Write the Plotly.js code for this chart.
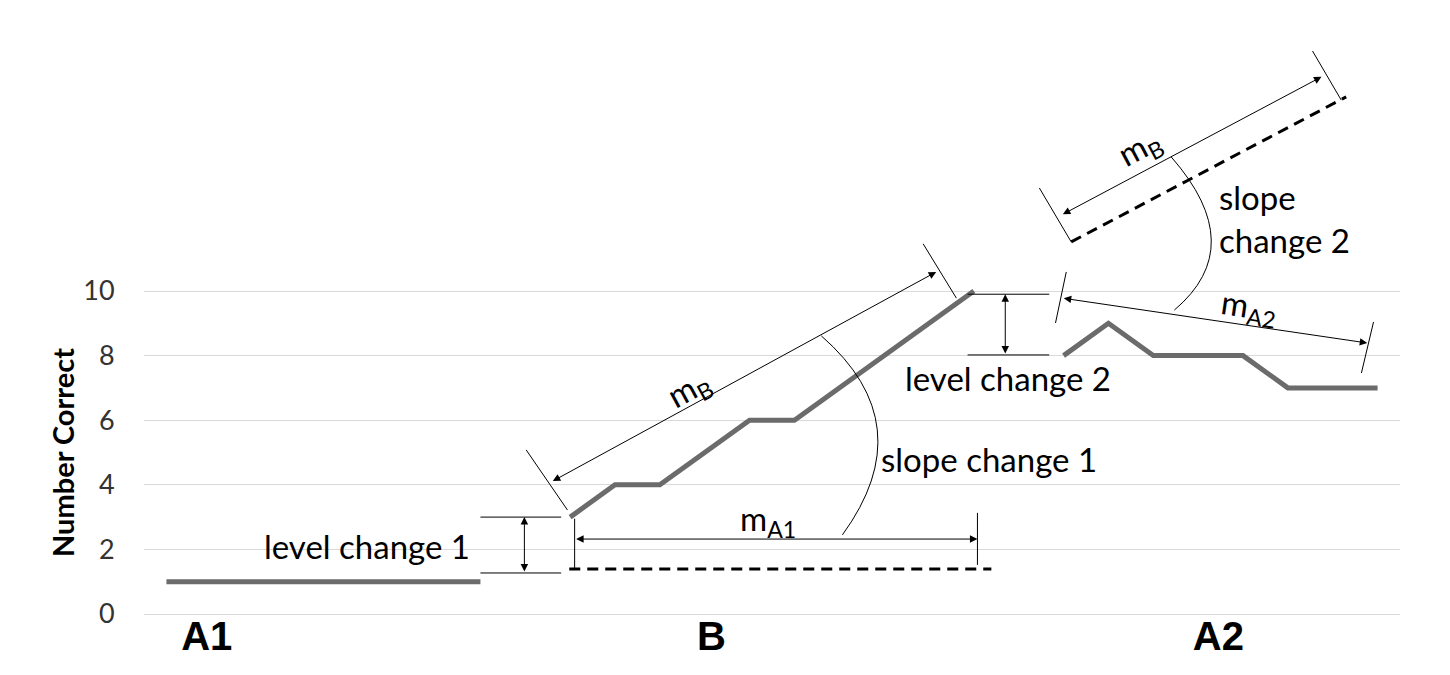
<!DOCTYPE html>
<html><head><meta charset="utf-8">
<script src="https://cdn.plot.ly/plotly-3.0.1.min.js"></script>
<style>html,body{margin:0;padding:0;background:#fff;}#chart{width:1450px;height:675px;}</style>
</head><body><div id="chart"></div>
<script>
// ---- data ----
const phaseA1X = [0,1,2,3,4,5,6,7];
const phaseA1Y = [1,1,1,1,1,1,1,1];
const phaseBX  = [9,10,11,12,13,14,15,16,17,18];
const phaseBY  = [3,4,4,5,6,6,7,8,9,10];
const phaseA2X = [20,21,22,23,24,25,26,27];
const phaseA2Y = [8,9,8,8,8,7,7,7];
const yTicks = [0,2,4,6,8,10];
const phaseLabels = ['A1','B','A2'];
const phaseLabelX = [0.9, 12.15, 23.45];

// ---- annotation geometry (data units) ----
const predictedLevel1 = 1.39;
const lowLevel1 = 1.27;
const topLevel2 = 9.9;

const dataLine = {color:'#6b6b6b', width:5};
function series(x, y){ return {x:x, y:y, type:'scatter', mode:'lines', line:dataLine, hoverinfo:'skip', showlegend:false}; }
const traces = [series(phaseA1X, phaseA1Y), series(phaseBX, phaseBY), series(phaseA2X, phaseA2Y)];

const thin = {color:'#000', width:1};
const dashed = {color:'#000', width:3, dash:'11px,7px'};
function seg(x0,y0,x1,y1,ln){ return {type:'line', xref:'x', yref:'y', x0:x0, y0:y0, x1:x1, y1:y1, line:ln||thin, layer:'above'}; }

const lastA1X = phaseA1X[phaseA1X.length-1];
const firstBY = phaseBY[0];
const firstA2Y = phaseA2Y[0];

const shapes = [
  // dashed projections
  seg(8.98, predictedLevel1, 18.39, predictedLevel1, dashed),
  seg(20.17, 11.52, 26.30, 16.01, dashed),
  // level change 1
  seg(lastA1X, firstBY, 8.8, firstBY),
  seg(lastA1X, lowLevel1, 8.8, lowLevel1),
  // m_A1 end ticks
  seg(9.1, 2.95, 9.1, predictedLevel1),
  seg(18.08, 3.13, 18.08, 1.52),
  // m_B ticks (phase B)
  seg(8.02, 5.08, 8.94, 3.22),
  seg(16.87, 11.46, 17.61, 9.78),
  // level change 2
  seg(17.86, topLevel2, 19.68, topLevel2),
  seg(17.86, firstA2Y + 0.02, 19.68, firstA2Y + 0.02),
  // m_A2 ticks
  seg(20.06, 10.59, 19.82, 9.01),
  seg(26.91, 9.04, 26.64, 7.46),
  // upper m_B ticks
  seg(19.46, 13.19, 20.17, 11.52),
  seg(25.55, 17.43, 26.19, 15.91),
  // slope-change arcs
  {type:'path', xref:'x', yref:'y', path:'M 15.07 2.45 Q 16.86 5.87 14.60 8.61', line:thin, layer:'above'},
  {type:'path', xref:'x', yref:'y', path:'M 22.47 9.41 Q 24.15 11.38 22.40 14.15', line:thin, layer:'above'}
];

function dbl(x0,y0,x1,y1){
  return {x:x1, y:y1, ax:x0, ay:y0, xref:'x', yref:'y', axref:'x', ayref:'y',
    text:'', showarrow:true, arrowside:'end+start', arrowhead:2, arrowsize:1.5,
    arrowwidth:1, arrowcolor:'#000', standoff:0, startstandoff:0, font:{size:1}};
}
const txtFont = {family:'Lato, sans-serif', size:33, color:'#000'};
function lbl(text, x, y, opts){
  return Object.assign({text:text, x:x, y:y, xref:'x', yref:'y', showarrow:false, font:txtFont,
    xanchor:'center', yanchor:'middle'}, opts||{});
}

const annotations = [
  dbl(7.98, lowLevel1, 7.98, firstBY),
  dbl(9.1, 2.32, 18.08, 2.32),
  dbl(8.58, 4.09, 17.16, 10.59),
  dbl(18.70, firstA2Y + 0.02, 18.70, topLevel2),
  dbl(19.97, 9.78, 26.77, 8.39),
  dbl(19.95, 12.35, 25.75, 16.63),
  lbl('level change 1', 2.14, 2.11, {xanchor:'left'}),
  lbl('m<sub>A1</sub>', 13.4, 2.9),
  lbl('m<sub>B</sub>', 11.66, 6.95, {textangle:-28.6}),
  lbl('slope change 1', 15.89, 4.8, {xanchor:'left'}),
  lbl('level change 2', 16.41, 7.31, {xanchor:'left'}),
  lbl('m<sub>A2</sub>', 24.14, 9.5, {textangle:8.4}),
  lbl('slope<br>change 2', 23.41, 12.23, {xanchor:'left', align:'left'}),
  lbl('m<sub>B</sub>', 21.7, 14.4, {textangle:-28}),
  {text:'<b>Number Correct</b>', xref:'paper', yref:'paper', x:-0.0653, y:0.2727, textangle:-90,
   showarrow:false, font:{family:'Lato, sans-serif', size:29, color:'#000'}, xanchor:'center', yanchor:'middle'}
];

const layout = {
  width:1450, height:675,
  margin:{l:144, r:50, t:20, b:61},
  paper_bgcolor:'#fff', plot_bgcolor:'#fff',
  showlegend:false,
  xaxis:{range:[-0.5,27.5], tickmode:'array', tickvals:phaseLabelX,
    ticktext:phaseLabels.map(s=>'<b>'+s+'</b>'), showgrid:false, zeroline:false, showline:false,
    ticks:'', ticklabelstandoff:-5,
    tickfont:{family:'Liberation Sans, Arial, sans-serif', size:40, color:'#000'}, fixedrange:true},
  yaxis:{range:[0,18.39], tickmode:'array', tickvals:yTicks, showgrid:true, gridcolor:'#d9d9d9', gridwidth:1,
    zeroline:true, zerolinecolor:'#d9d9d9', zerolinewidth:1, showline:false,
    ticks:'outside', ticklen:23, tickcolor:'rgba(0,0,0,0)',
    tickfont:{family:'Lato, sans-serif', size:27, color:'#333'}, fixedrange:true},
  shapes:shapes,
  annotations:annotations
};

Plotly.newPlot('chart', traces, layout, {displayModeBar:false, staticPlot:true});
</script>
</body></html>
